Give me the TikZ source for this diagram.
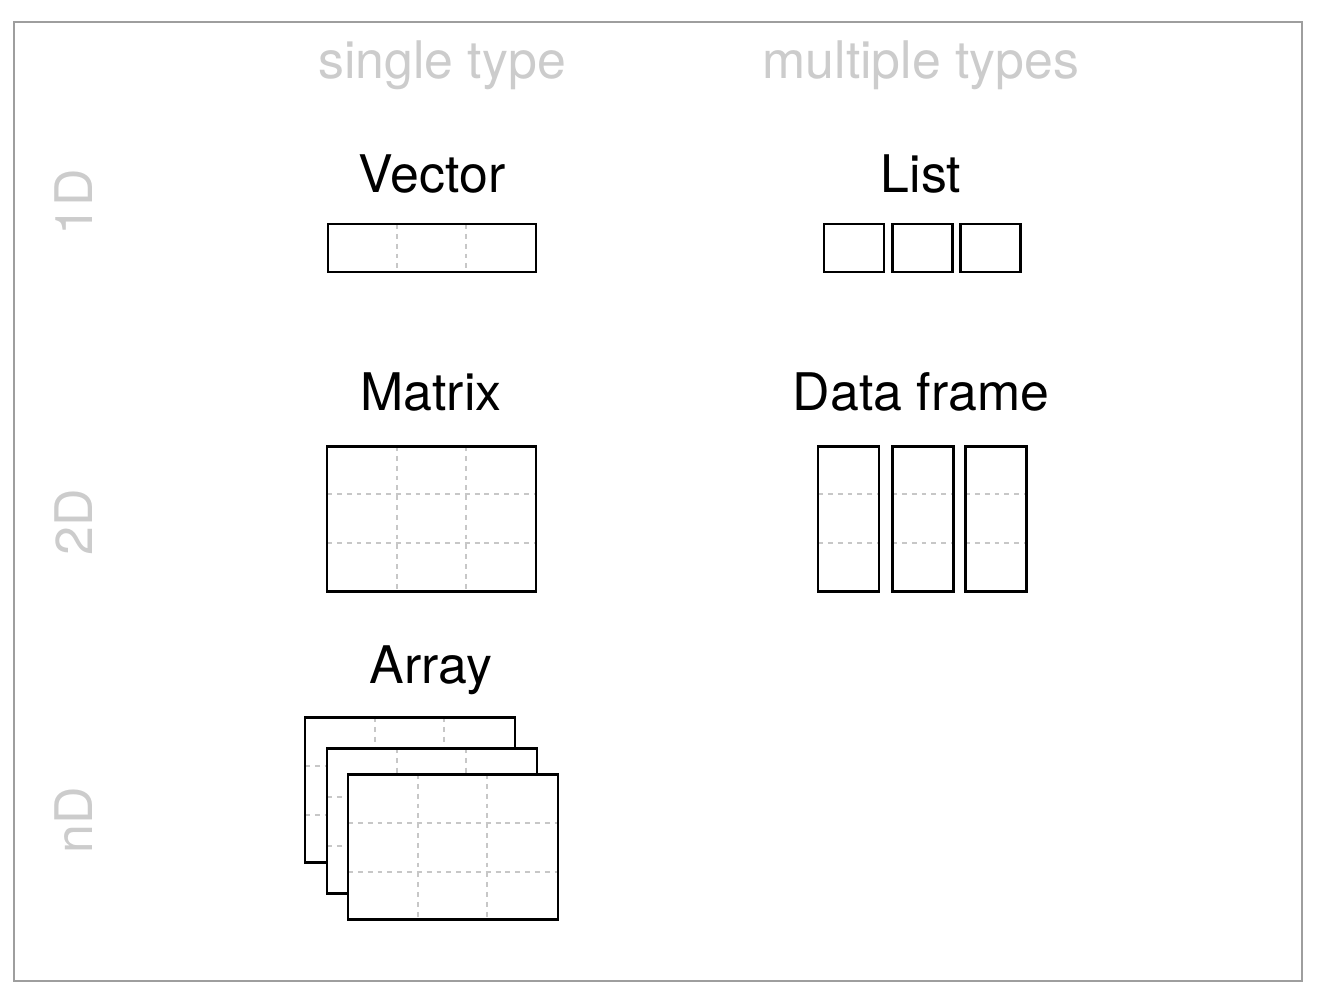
\documentclass[tikz,border=0pt]{standalone}
\usepackage{fontspec}
\setmainfont{TeX Gyre Heros}
\usetikzlibrary{positioning,calc}

\begin{document}
\begin{tikzpicture}[x=0.02cm, y=-0.02cm,
    title/.style={font=\fontsize{29.5}{31}\selectfont, anchor=base, inner sep=0pt},
    header/.style={title, text=black!20},
    dim/.style={header, rotate=90},
    cell/.style={draw=black!22, line width=1.2pt, dash pattern=on 2.8pt off 2.8pt},
    frame/.style={draw=black, line width=1.7pt},
    sheet/.style={frame, fill=white}]

    \useasboundingbox (0,0) rectangle (1340,1008);
    \draw [black!38, line width=1.3pt] (14,22) rectangle (1302,981);

    % headers
    \node (single) [header] at (442,78) {single type};
    \node (multi) [header] at (921,78) {multiple types};
    \node (oneD) [dim] at (92,202) {1D};
    \node (twoD) [dim] at (92,522) {2D};
    \node (nD) [dim] at (92,820) {nD};

    % titles
    \node (vector) [title] at (432,192) {Vector};
    \node (list) [title] at (921,192) {List};
    \node (matrix) [title] at (431,410) {Matrix};
    \node (dframe) [title] at (921,410) {Data frame};
    \node (array) [title] at (431,683) {Array};

    % vector
    \foreach \x in {397,466}
        \draw [cell] (\x,224) -- (\x,272);
    \draw [frame] (328,224) rectangle (536,272);

    % list
    \foreach \x in {824,892,960}
        \draw [frame] (\x,224) rectangle ++(60,48);

    % matrix
    \foreach \x in {397,466}
        \draw [cell] (\x,446) -- (\x,591);
    \foreach \y in {494,543}
        \draw [cell] (327,\y) -- (536,\y);
    \draw [frame] (327,446) rectangle (536,591);

    % data frame
    \foreach \x in {818,892,965} {
        \foreach \y in {494,543}
            \draw [cell] (\x,\y) -- ++(61,0);
        \draw [frame] (\x,446) rectangle ++(61,145);
    }

    % array
    \foreach \sx/\sy in {305/717,327/748,348/774} {
        \fill [white] (\sx,\sy) rectangle ++(210,145);
        \foreach \dx in {70,139}
            \draw [cell] (\sx+\dx,\sy) -- ++(0,145);
        \foreach \dy in {49,98}
            \draw [cell] (\sx,\sy+\dy) -- ++(210,0);
        \draw [frame] (\sx,\sy) rectangle ++(210,145);
    }
\end{tikzpicture}
\end{document}
